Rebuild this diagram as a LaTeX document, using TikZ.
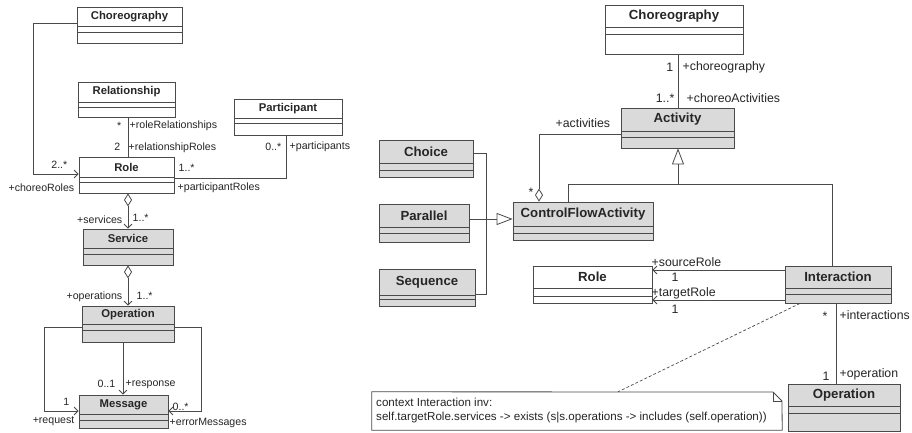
\documentclass[tikz,border=0pt]{standalone}
\usepackage{fontspec}
\setmainfont{Liberation Sans}
\usetikzlibrary{arrows.meta,fit}

\definecolor{umlline}{HTML}{4A4A4A}
\definecolor{umlgray}{HTML}{DADADA}
\definecolor{umltext}{HTML}{262626}

\newcommand\fsz[1]{\fontsize{#1}{#1}\selectfont}

% \umlclass[fill]{id}{name}{x1}{y1}{x2}{y2}{first compartment line}{second compartment line}
\newcommand\umlclass[9][white]{%
  \node[classbox, fill=#1, fit={(#4,#5) (#6,#7)}] (#2) {};
  \draw[classline] (#4,#8) -- (#6,#8) (#4,#9) -- (#6,#9);
  \node[classname] (#2-name) at ({(#4+#6)/2},{(#5+#8)/2}) {#3};
}

\tikzset{
  classbox/.style={draw=umlline, line width=0.8pt, inner sep=0pt},
  classline/.style={draw=umlline, line width=0.8pt},
  classname/.style={text=umltext, inner sep=0pt},
  rolelabel/.style={text=umltext, inner sep=0.5pt},
  assoc/.style={draw=umlline, line width=0.8pt},
  navig/.style={assoc, -{Straight Barb[length=4pt,width=8pt]}},
  aggrnav/.style={assoc, {Diamond[open,length=13pt,width=8pt]}-{Straight Barb[length=4pt,width=8pt]}},
  aggrend/.style={assoc, -{Diamond[open,length=13pt,width=8pt]}},
  generalize/.style={assoc, -{Triangle[open,length=16pt,width=12pt]}},
  notelink/.style={draw=umlline, line width=0.7pt, densely dashed},
}

\begin{document}
\begin{tikzpicture}[x=1pt, y=-1pt]
\fill[white] (0,0) rectangle (912,432);
\useasboundingbox (0,0) rectangle (912,432);

% ---------------- static structure: roles, services, messages ----------------
\begin{scope}[classname/.append style={font=\bfseries\fsz{11.3}},
              rolelabel/.append style={font=\fsz{10.6}}]
  \umlclass{chorL}{Choreography}{77}{7}{182}{43}{26}{32}
  \umlclass{relL}{Relationship}{78}{82}{175}{117}{102}{107}
  \umlclass{partL}{Participant}{234}{99}{342}{135}{118}{123}
  \umlclass{roleL}{Role}{79}{157}{174}{193}{177}{182}
  \umlclass[umlgray]{servL}{Service}{83}{229}{173}{265}{248}{254}
  \umlclass[umlgray]{opL}{Operation}{82}{306}{174}{342}{324}{330}
  \umlclass[umlgray]{msgL}{Message}{79}{395}{168}{428}{414}{420}

  % Choreography -> Role
  \draw[navig] (chorL.west |- 0,23) -- (33,23) -- (33,174) -- (roleL.west |- 0,174);
  \node[rolelabel, anchor=east] (lChorMult) at (68,165) {2..*};
  \node[rolelabel, anchor=east] (lChorRole) at (75,188) {+choreoRoles};

  % Relationship -- Role
  \draw[assoc] (relL.south -| 128,0) -- (roleL.north -| 128,0);
  \node[rolelabel, anchor=east] (lRelMultA) at (122,126) {*};
  \node[rolelabel, anchor=west] (lRelRoleA) at (129,126) {+roleRelationships};
  \node[rolelabel, anchor=east] (lRelMultB) at (121,147) {2};
  \node[rolelabel, anchor=west] (lRelRoleB) at (128,148) {+relationshipRoles};

  % Role -- Participant
  \draw[assoc] (roleL.east |- 0,178) -- (286,178) -- (partL.south -| 286,0);
  \node[rolelabel, anchor=west] (lPartMultA) at (178,168) {1..*};
  \node[rolelabel, anchor=west] (lPartRoleA) at (177,188) {+participantRoles};
  \node[rolelabel, anchor=east] (lPartMultB) at (282,147) {0..*};
  \node[rolelabel, anchor=west] (lPartRoleB) at (289,147) {+participants};

  % Role <>-> Service
  \draw[aggrnav] (roleL.south -| 128,0) -- (servL.north -| 128,0);
  \node[rolelabel, anchor=east] (lServRole) at (123,220) {+services};
  \node[rolelabel, anchor=west] (lServMult) at (132,218) {1..*};

  % Service <>-> Operation
  \draw[aggrnav] (servL.south -| 128,0) -- (opL.north -| 128,0);
  \node[rolelabel, anchor=east] (lOpRole) at (123,297) {+operations};
  \node[rolelabel, anchor=west] (lOpMult) at (136,296) {1..*};

  % Operation -> Message (request)
  \draw[navig] (opL.west |- 0,327) -- (44,327) -- (44,411) -- (msgL.west |- 0,411);
  \node[rolelabel, anchor=east] (lReqMult) at (70,402) {1};
  \node[rolelabel, anchor=east] (lReqRole) at (75,421) {+request};

  % Operation -> Message (response)
  \draw[navig] (opL.south -| 123,0) -- (msgL.north -| 123,0);
  \node[rolelabel, anchor=east] (lRespMult) at (116,384) {0..1};
  \node[rolelabel, anchor=west] (lRespRole) at (125,385) {+response};

  % Operation -> Message (errors)
  \draw[navig] (opL.east |- 0,327) -- (201,327) -- (201,411) -- (msgL.east |- 0,411);
  \node[rolelabel, anchor=west] (lErrMult) at (172,407) {0..*};
  \node[rolelabel, anchor=west] (lErrRole) at (169,423) {+errorMessages};
\end{scope}

% ---------------- behaviour: activities and interactions ----------------
\begin{scope}[classname/.append style={font=\bfseries\fsz{13.2}},
              rolelabel/.append style={font=\fsz{12.3}}]
  \umlclass{chorR}{Choreography}{605}{5}{743}{54}{27}{34}
  \umlclass[umlgray]{act}{Activity}{621}{108}{734}{148}{131}{137}
  \umlclass[umlgray]{cfa}{ControlFlowActivity}{513}{202}{653}{240}{226}{233}
  \umlclass[umlgray]{choice}{Choice}{379}{140}{473}{177}{163}{170}
  \umlclass[umlgray]{par}{Parallel}{379}{204}{469}{242}{227}{233}
  \umlclass[umlgray]{seq}{Sequence}{379}{269}{475}{306}{295}{299}
  \umlclass{roleR}{Role}{533}{266}{652}{303}{288}{296}
  \umlclass[umlgray]{inter}{Interaction}{785}{266}{891}{303}{288}{294}
  \umlclass[umlgray]{opR}{Operation}{788}{384}{900}{431}{406}{413}

  % Choreography -- Activity
  \draw[assoc] (chorR.south -| 678,0) -- (act.north -| 678,0);
  \node[rolelabel, anchor=east] (rChorMult) at (674,67) {1};
  \node[rolelabel, anchor=west] (rChorRole) at (682,67) {+choreography};
  \node[rolelabel, anchor=east] (rActMult) at (675,98) {1..*};
  \node[rolelabel, anchor=west] (rActRole) at (686,98) {+choreoActivities};

  % Activity -- ControlFlowActivity (aggregation)
  \draw[aggrend] (act.west |- 0,134) -- (539,134) -- (cfa.north -| 539,0);
  \node[rolelabel, anchor=west] (rAggRole) at (555,123) {+activities};
  \node[rolelabel, anchor=east] (rAggMult) at (534,192) {*};

  % Generalization tree to Activity
  \draw[assoc] (cfa.north -| 568,0) -- (568,184) -- (832,184) -- (inter.north -| 832,0);
  \draw[generalize] (678,184) -- (act.south -| 678,0);

  % Generalization tree to ControlFlowActivity
  \draw[assoc] (choice.east |- 0,153) -- (486,153) -- (486,294) -- (seq.east |- 0,294);
  \draw[generalize] (par.east |- 0,219) -- (cfa.west |- 0,219);

  % Interaction -> Role
  \draw[navig] (inter.west |- 0,270) -- (roleR.east |- 0,270);
  \node[rolelabel, anchor=west] (rSrcRole) at (651,262) {+sourceRole};
  \node[rolelabel] (rSrcMult) at (675,277) {1};
  \draw[navig] (inter.west |- 0,300) -- (roleR.east |- 0,300);
  \node[rolelabel, anchor=west] (rTgtRole) at (651,293) {+targetRole};
  \node[rolelabel] (rTgtMult) at (675,309) {1};

  % Interaction -- Operation
  \draw[assoc] (inter.south -| 836,0) -- (opR.north -| 836,0);
  \node[rolelabel] (rIntMult) at (825,316) {*};
  \node[rolelabel, anchor=west] (rIntRole) at (839,315) {+interactions};
  \node[rolelabel] (rOpMult) at (826,376) {1};
  \node[rolelabel, anchor=west] (rOpRole) at (839,374) {+operation};

  % OCL constraint note
  \node[fit={(372,392) (782,430)}, inner sep=0pt] (note) {};
  \draw[classline, fill=white] (note.north west) -- (773,392) -- (782,401)
        -- (note.south east) -- (note.south west) -- cycle;
  \draw[classline] (773,392) -- (773,401) -- (782,401);
  \node[anchor=west, inner sep=0pt, text=umltext, font=\fsz{11.6}] (noteA) at (376,402)
        {context Interaction inv:};
  \node[anchor=west, inner sep=0pt, text=umltext, font=\fsz{11.6}] (noteB) at (376,418)
        {self.targetRole.services -> exists (s|s.operations -> includes (self.operation))};
  \draw[notelink] (inter.south -| 800,0) -- (note.north -| 618,0);
\end{scope}
\end{tikzpicture}
\end{document}
